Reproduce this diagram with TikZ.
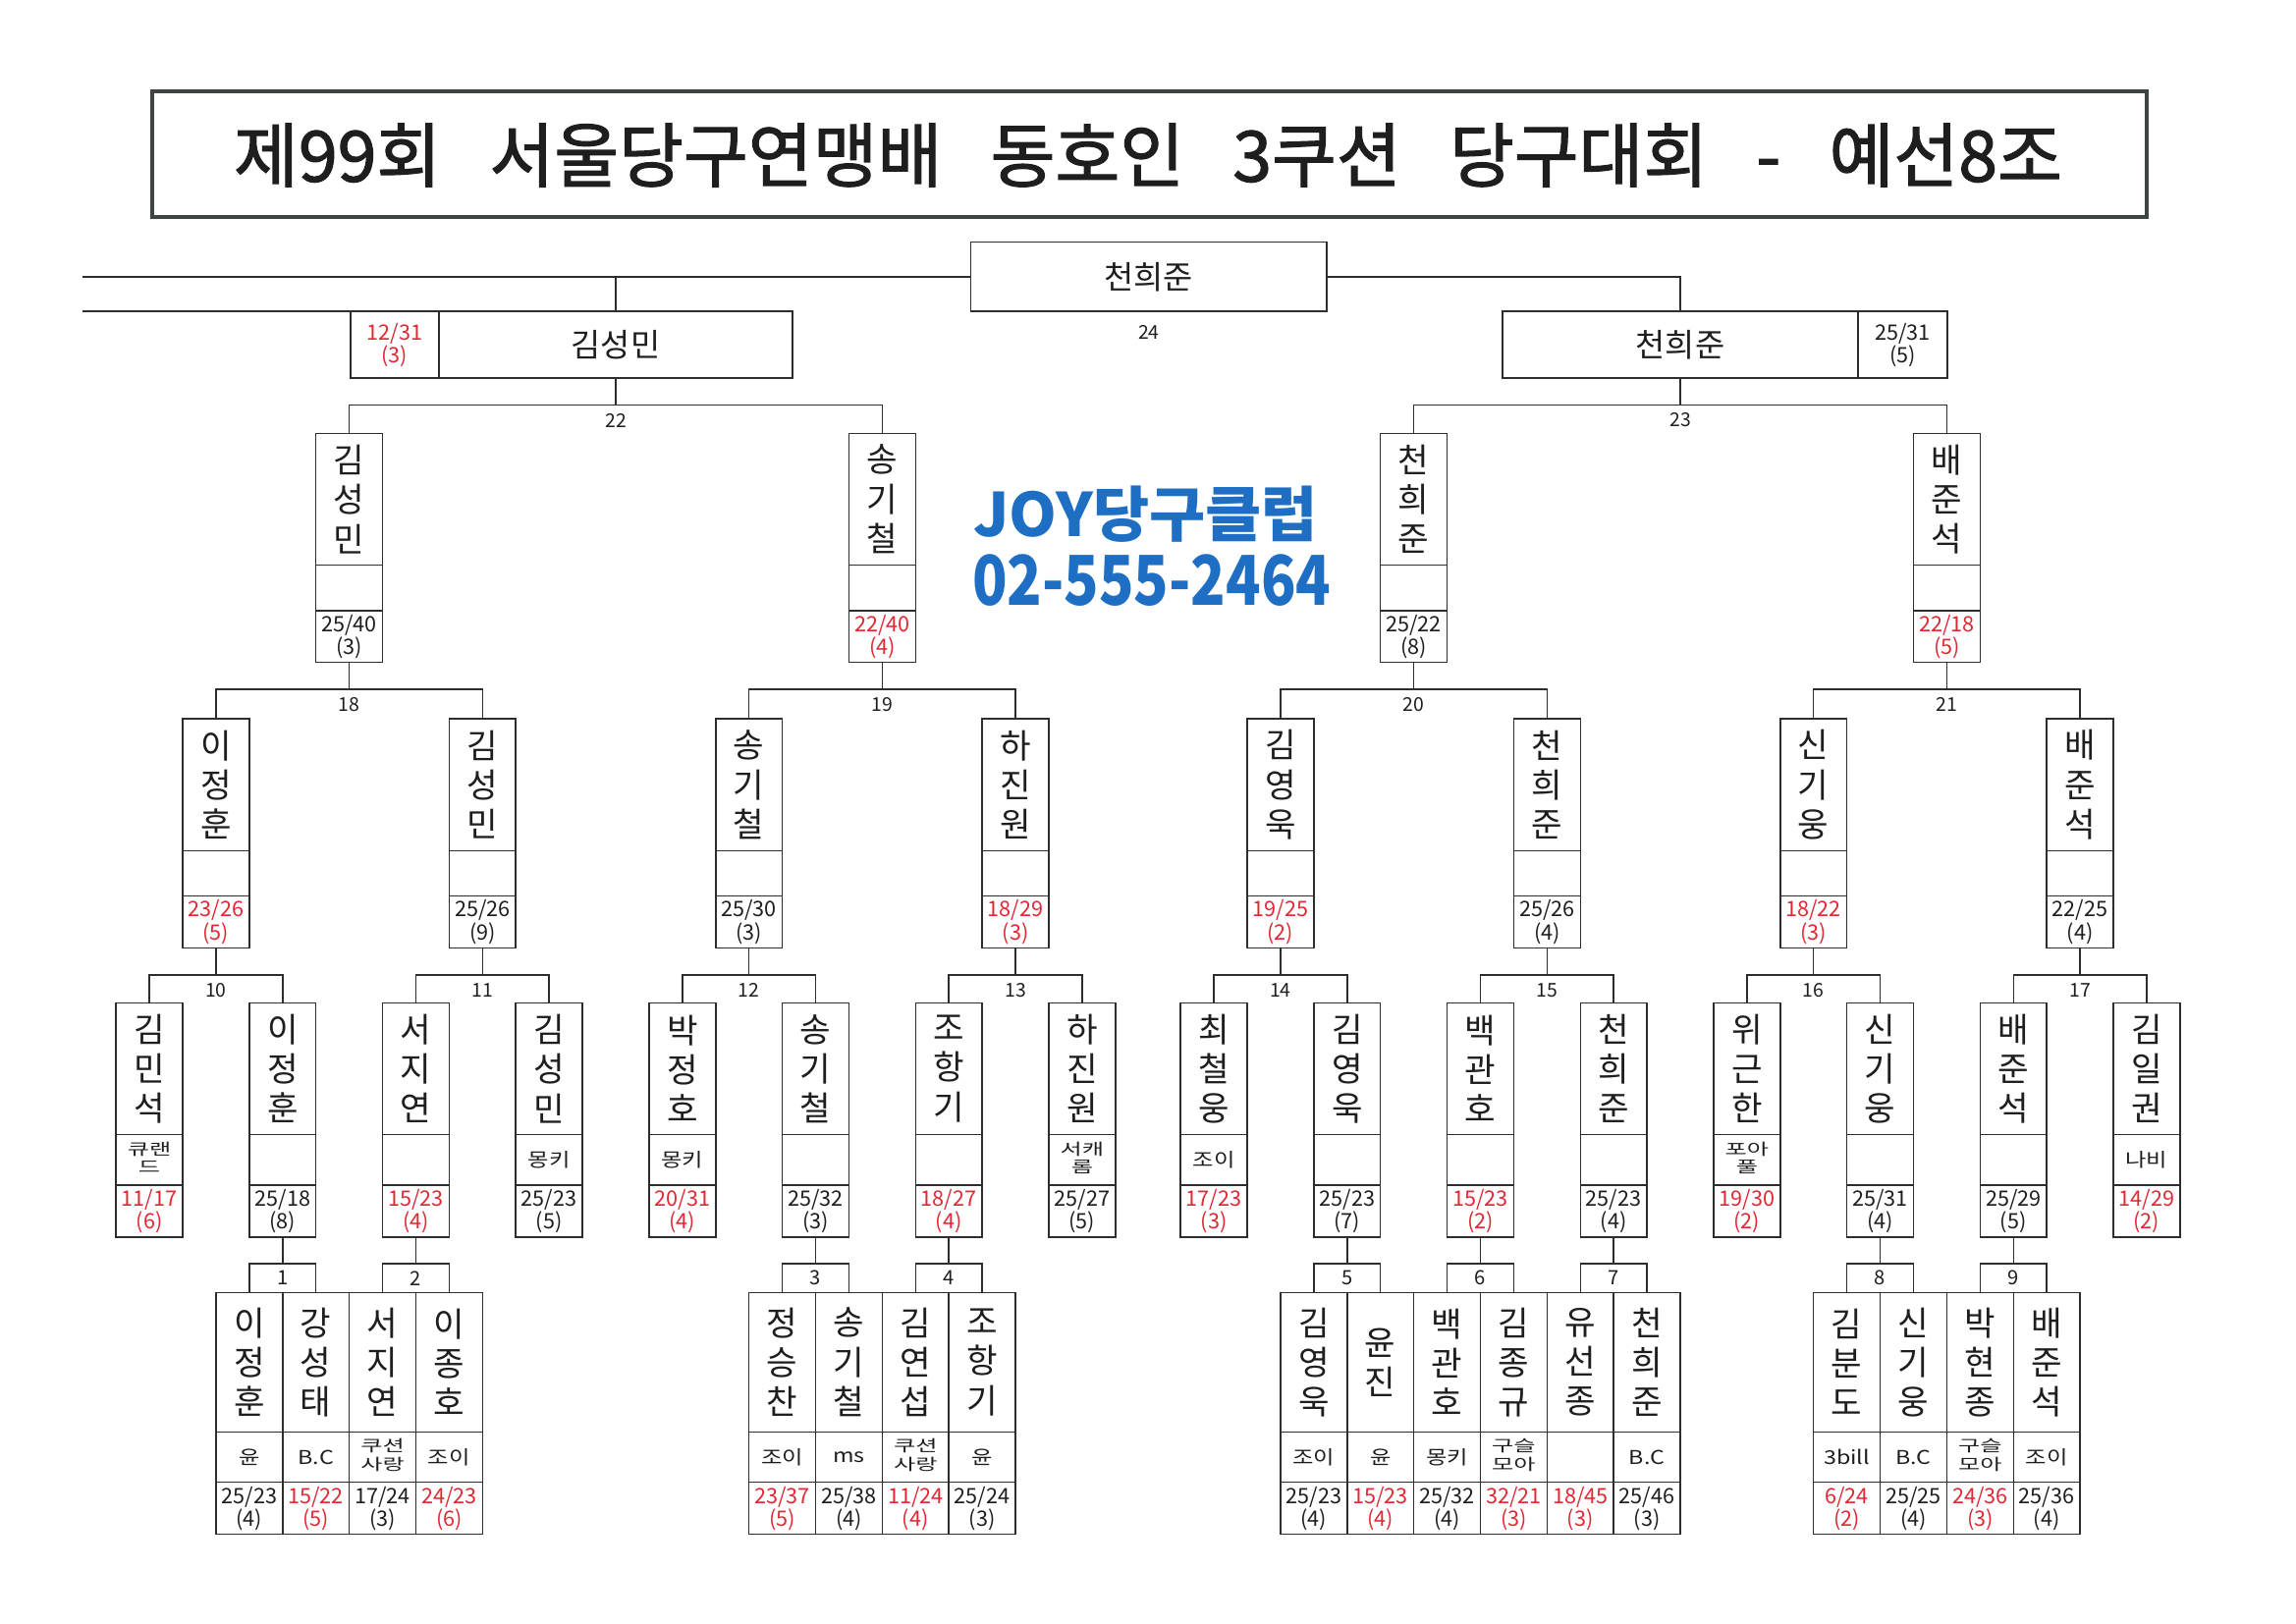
\documentclass[tikz,border=0pt]{standalone}
\usepackage{fontspec}
\usepackage{graphicx}
\setmainfont{Noto Sans CJK KR}
\newfontfamily\titlefont[FakeBold=1.6]{Noto Sans CJK KR}
\definecolor{sred}{RGB}{226,40,52}
\definecolor{sblk}{RGB}{30,30,30}
\definecolor{ink}{RGB}{45,45,45}
\definecolor{joyblue}{RGB}{30,110,196}
\definecolor{framec}{RGB}{60,68,68}
\tikzset{
  conn/.style={draw=ink, line width=1pt},
  cell/.style={draw=ink, line width=1pt, inner sep=0pt, outer sep=0pt, minimum width=45.5pt, align=center, anchor=north, text=sblk},
  namecell/.style={cell, font=\fontsize{23}{27}\selectfont},
  clubcell/.style={cell, font=\fontsize{13}{14}\selectfont},
  scorecell/.style={cell, font=\fontsize{14.5}{14}\selectfont},
  lbl/.style={font=\fontsize{13}{13}\selectfont, text=sblk, inner sep=0pt},
  hboxc/.style={draw=ink, line width=1pt, inner sep=0pt, outer sep=0pt, font=\fontsize{22}{22}\selectfont, text=sblk},
}
\newcommand\setrow[4]{\def\rowtop{#1}\def\hn{#2}\def\hc{#3}\def\hs{#4}}
\newcommand\player[6]{%
  \node[namecell, minimum height=\hn] (#1) at (#2,\rowtop) {#3};
  \node[clubcell, minimum height=\hc] (#1c) at (#1.south) {\scalebox{1.2}[1]{#4}};
  \node[scorecell, minimum height=\hs, text=#6] (#1s) at (#1c.south) {#5};
}
\newcommand\ctwo[2]{\scalebox{1}[0.8]{\fontsize{13.5}{16}\selectfont\renewcommand\arraystretch{0.95}\begin{tabular}{@{}c@{}}#1\\#2\end{tabular}}}
\newcommand\bracket[4]{%
  \path (#1.south) ++(0,18.3) coordinate (b#4);
  \draw[conn] (#1.south) -- (b#4);
  \draw[conn] (#2.north) |- (b#4) -| (#3.north);
  \node[lbl] (l#4) at ([yshift=-10.5pt]b#4) {#4};
}
\newcommand\band[3]{%
  \path (#1s.south) ++(0,18) node[cell, minimum height=20pt, font=\fontsize{13.5}{13.5}\selectfont] (#2) {#3};
  \draw[conn] (#1s.south) -- (#2.north);
}
\begin{document}
\begin{tikzpicture}[x=1pt,y=-1pt]
\useasboundingbox (0,0) rectangle (1568,1108.6);
\fill[white] (0,0) rectangle (1568,1108.6);

% title
\node[draw=framec, line width=2.6pt, minimum width=1362pt, minimum height=86pt, inner sep=0pt] (titlebox) at (785,105.5) {};
\node[font=\titlefont\fontsize{48}{48}\selectfont, text=sblk, inner sep=0pt] (title) at (784,106)
  {제99회\hspace{33pt}서울당구연맹배\hspace{33pt}동호인\hspace{33pt}3쿠션\hspace{33pt}당구대회\hspace{33pt}-\hspace{33pt}예선8조};

% JOY
\node[font=\bfseries\fontsize{41}{41}\selectfont, text=joyblue, inner sep=0pt] (joy1) at (782.5,351) {\resizebox{235pt}{\height}{JOY당구클럽}};
\node[font=\bfseries\fontsize{47}{47}\selectfont, text=joyblue, inner sep=0pt] (joy2) at (786.5,396.3) {\resizebox{245pt}{\height}{02-555-2464}};

% final and semis
\node[hboxc, minimum width=243pt, minimum height=47.3pt] (fin) at (784.5,189) {천희준};
\node[lbl] (l24) at (784.5,226.8) {24};
\node[hboxc, minimum width=241.5pt, minimum height=45.5pt] (sA) at (420.5,235.5) {김성민};
\node[scorecell, anchor=center, minimum width=60.25pt, minimum height=45.5pt, text=sred] (sAs) at (269.6,235.5) {12/31\\(3)};
\node[hboxc, minimum width=243pt, minimum height=45.5pt] (sB) at (1147.5,235.5) {천희준};
\node[scorecell, anchor=center, minimum width=61pt, minimum height=45.5pt] (sBs) at (1299.5,235.5) {25/31\\(5)};
\coordinate (L1) at (56.5,189);
\coordinate (L2) at (56.5,212.75);
\draw[conn] (L1) -- (fin.west);
\draw[conn] (L2) -- (sAs.north west);
\draw[conn] (sA.north) -- (sA.north |- fin.west);
\draw[conn] (fin.east) -| (sB.north);

% level 2
\setrow{296}{90pt}{31pt}{35.5pt}
\player{q1}{238.5}{김\\성\\민}{}{25/40\\(3)}{sblk}
\player{q2}{602.5}{송\\기\\철}{}{22/40\\(4)}{sred}
\player{q3}{965.5}{천\\희\\준}{}{25/22\\(8)}{sblk}
\player{q4}{1329.5}{배\\준\\석}{}{22/18\\(5)}{sred}

% level 3
\setrow{491}{90pt}{31pt}{35.5pt}
\player{t1}{147.5}{이\\정\\훈}{}{23/26\\(5)}{sred}
\player{t2}{329.5}{김\\성\\민}{}{25/26\\(9)}{sblk}
\player{t3}{511.5}{송\\기\\철}{}{25/30\\(3)}{sblk}
\player{t4}{693.5}{하\\진\\원}{}{18/29\\(3)}{sred}
\player{t5}{874.5}{김\\영\\욱}{}{19/25\\(2)}{sred}
\player{t6}{1056.5}{천\\희\\준}{}{25/26\\(4)}{sblk}
\player{t7}{1238.5}{신\\기\\웅}{}{18/22\\(3)}{sred}
\player{t8}{1420.5}{배\\준\\석}{}{22/25\\(4)}{sblk}

% level 4
\setrow{685}{90pt}{34.5pt}{35.5pt}
\player{f1}{102}{김\\민\\석}{\ctwo{큐랜}{드}}{11/17\\(6)}{sred}
\player{f2}{193}{이\\정\\훈}{}{25/18\\(8)}{sblk}
\player{f3}{284}{서\\지\\연}{}{15/23\\(4)}{sred}
\player{f4}{375}{김\\성\\민}{몽키}{25/23\\(5)}{sblk}
\player{f5}{466}{박\\정\\호}{몽키}{20/31\\(4)}{sred}
\player{f6}{557}{송\\기\\철}{}{25/32\\(3)}{sblk}
\player{f7}{648}{조\\항\\기}{}{18/27\\(4)}{sred}
\player{f8}{739}{하\\진\\원}{\ctwo{서캐}{롬}}{25/27\\(5)}{sblk}
\player{f9}{829}{최\\철\\웅}{조이}{17/23\\(3)}{sred}
\player{f10}{920}{김\\영\\욱}{}{25/23\\(7)}{sblk}
\player{f11}{1011}{백\\관\\호}{}{15/23\\(2)}{sred}
\player{f12}{1102}{천\\희\\준}{}{25/23\\(4)}{sblk}
\player{f13}{1193}{위\\근\\한}{\ctwo{포아}{풀}}{19/30\\(2)}{sred}
\player{f14}{1284}{신\\기\\웅}{}{25/31\\(4)}{sblk}
\player{f15}{1375}{배\\준\\석}{}{25/29\\(5)}{sblk}
\player{f16}{1466}{김\\일\\권}{나비}{14/29\\(2)}{sred}

% bands for first round
\band{f2}{r1}{1}
\band{f3}{r2}{2}
\band{f6}{r3}{3}
\band{f7}{r4}{4}
\band{f10}{r5}{5}
\band{f11}{r6}{6}
\band{f12}{r7}{7}
\band{f14}{r8}{8}
\band{f15}{r9}{9}

% level 5
\setrow{883}{95pt}{34.5pt}{35.5pt}
\player{g1}{170.25}{이\\정\\훈}{윤}{25/23\\(4)}{sblk}
\player{g2}{215.75}{강\\성\\태}{B.C}{15/22\\(5)}{sred}
\player{g3}{261.25}{서\\지\\연}{\ctwo{쿠션}{사랑}}{17/24\\(3)}{sblk}
\player{g4}{306.75}{이\\종\\호}{조이}{24/23\\(6)}{sred}
\player{g5}{534.25}{정\\승\\찬}{조이}{23/37\\(5)}{sred}
\player{g6}{579.75}{송\\기\\철}{ms}{25/38\\(4)}{sblk}
\player{g7}{625.25}{김\\연\\섭}{\ctwo{쿠션}{사랑}}{11/24\\(4)}{sred}
\player{g8}{670.75}{조\\항\\기}{윤}{25/24\\(3)}{sblk}
\player{g9}{897.25}{김\\영\\욱}{조이}{25/23\\(4)}{sblk}
\player{g10}{942.75}{윤\\진}{윤}{15/23\\(4)}{sred}
\player{g11}{988.25}{백\\관\\호}{몽키}{25/32\\(4)}{sblk}
\player{g12}{1033.75}{김\\종\\규}{\ctwo{구슬}{모아}}{32/21\\(3)}{sred}
\player{g13}{1079.25}{유\\선\\종}{}{18/45\\(3)}{sred}
\player{g14}{1124.75}{천\\희\\준}{B.C}{25/46\\(3)}{sblk}
\player{g15}{1261.25}{김\\분\\도}{3bill}{6/24\\(2)}{sred}
\player{g16}{1306.75}{신\\기\\웅}{B.C}{25/25\\(4)}{sblk}
\player{g17}{1352.25}{박\\현\\종}{\ctwo{구슬}{모아}}{24/36\\(3)}{sred}
\player{g18}{1397.75}{배\\준\\석}{조이}{25/36\\(4)}{sblk}

% brackets
\bracket{sA}{q1}{q2}{22}
\bracket{sB}{q3}{q4}{23}
\bracket{q1s}{t1}{t2}{18}
\bracket{q2s}{t3}{t4}{19}
\bracket{q3s}{t5}{t6}{20}
\bracket{q4s}{t7}{t8}{21}
\bracket{t1s}{f1}{f2}{10}
\bracket{t2s}{f3}{f4}{11}
\bracket{t3s}{f5}{f6}{12}
\bracket{t4s}{f7}{f8}{13}
\bracket{t5s}{f9}{f10}{14}
\bracket{t6s}{f11}{f12}{15}
\bracket{t7s}{f13}{f14}{16}
\bracket{t8s}{f15}{f16}{17}
\end{tikzpicture}
\end{document}
